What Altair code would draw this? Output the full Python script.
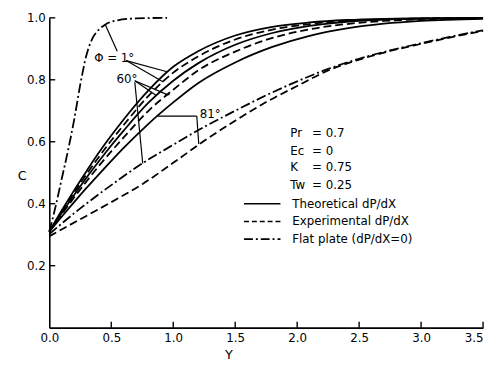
import altair as alt
import pandas as pd

# ---- data ----
Y_GRID = [0, 0.1, 0.2, 0.3, 0.4, 0.5, 0.6, 0.8, 1.0, 1.2, 1.5, 1.8, 2.1, 2.4, 2.7, 3.0, 3.5]
THEO_1 = [0.31, 0.378, 0.443, 0.505, 0.565, 0.62, 0.672, 0.766, 0.842, 0.892, 0.943, 0.971, 0.985, 0.993, 0.997, 0.999, 1.0]
EXP_1 = [0.31, 0.374, 0.436, 0.495, 0.551, 0.604, 0.654, 0.748, 0.823, 0.875, 0.93, 0.962, 0.98, 0.99, 0.995, 0.998, 1.0]
THEO_60 = [0.31, 0.37, 0.428, 0.484, 0.537, 0.588, 0.636, 0.726, 0.797, 0.853, 0.913, 0.951, 0.974, 0.987, 0.994, 0.997, 1.0]
EXP_60 = [0.31, 0.366, 0.42, 0.472, 0.522, 0.569, 0.614, 0.700, 0.768, 0.830, 0.891, 0.935, 0.963, 0.98, 0.99, 0.995, 0.999]
THEO_81 = [0.31, 0.358, 0.405, 0.451, 0.495, 0.538, 0.580, 0.658, 0.727, 0.789, 0.856, 0.906, 0.942, 0.966, 0.981, 0.99, 0.997]

LOW_GRID = [0, 0.25, 0.5, 0.75, 1.0, 1.25, 1.5, 1.75, 2.0, 2.25, 2.5, 2.75, 3.0, 3.25, 3.5]
FLAT_LOW = [0.302, 0.385, 0.46, 0.53, 0.59, 0.648, 0.70, 0.75, 0.795, 0.835, 0.868, 0.895, 0.918, 0.94, 0.96]
EXP_81 = [0.295, 0.35, 0.405, 0.463, 0.532, 0.603, 0.668, 0.728, 0.78, 0.830, 0.865, 0.893, 0.916, 0.938, 0.958]

STEEP_Y = [0, 0.05, 0.1, 0.15, 0.2, 0.25, 0.3, 0.35, 0.4, 0.45, 0.55, 0.7, 0.95]
FLAT_1 = [0.31, 0.39, 0.48, 0.57, 0.67, 0.785, 0.88, 0.935, 0.962, 0.978, 0.992, 0.998, 1.0]

X_TICKS = [0, 0.5, 1.0, 1.5, 2.0, 2.5, 3.0, 3.5]
Y_TICKS = [0.2, 0.4, 0.6, 0.8, 1.0]

# leader lines of the angle labels (Y, C) -> (Y2, C2)
LEADERS = [
    (0.548, 0.892, 0.452, 0.978),
    (0.62, 0.862, 0.95, 0.826),
    (0.62, 0.862, 0.92, 0.793),
    (0.69, 0.797, 0.86, 0.750),
    (0.69, 0.797, 0.952, 0.752),
    (0.935, 0.752, 0.97, 0.752),
    (0.69, 0.792, 0.754, 0.530),
    (0.873, 0.683, 1.19, 0.683),
    (1.19, 0.683, 1.206, 0.593),
]

W, H = 441, 315
FONT = "DejaVu Sans"

rows = []
for name, vals in [("t1", THEO_1), ("t60", THEO_60), ("t81", THEO_81)]:
    rows += [dict(Y=y, C=c, s=name, kind="solid") for y, c in zip(Y_GRID, vals)]
for name, vals in [("e1", EXP_1), ("e60", EXP_60)]:
    rows += [dict(Y=y, C=c, s=name, kind="dash") for y, c in zip(Y_GRID, vals)]
rows += [dict(Y=y, C=c, s="e81", kind="dash") for y, c in zip(LOW_GRID, EXP_81)]
rows += [dict(Y=y, C=c, s="f", kind="dashdot") for y, c in zip(LOW_GRID, FLAT_LOW)]
rows += [dict(Y=y, C=c, s="f1", kind="dashdot") for y, c in zip(STEEP_Y, FLAT_1)]
df = pd.DataFrame(rows)

xs = alt.Scale(domain=[0, 3.5], nice=False)
ys = alt.Scale(domain=[0, 1.0], nice=False)

xax = alt.Axis(values=X_TICKS, format=".1f", tickSize=0, labelPadding=5,
               domainColor="black", domainWidth=1.6, labelColor="black",
               labelFont=FONT, labelFontSize=12, title="Y", titleFont=FONT,
               titleFontSize=13, titleFontWeight="normal", titleColor="black",
               titleX=182, titleY=27, titleBaseline="middle", labelFlush=False,
               labelAlign={"expr": "datum.value >= 3.5 ? 'right' : 'center'"})
yax = alt.Axis(values=Y_TICKS, format=".1f", tickSize=0, labelPadding=4,
               domainColor="black", domainWidth=1.6, labelColor="black",
               labelFont=FONT, labelFontSize=12, title="C", titleFont=FONT,
               titleFontSize=13, titleFontWeight="normal", titleColor="black",
               titleAngle=0, titleX=-28, titleY=160, titleAlign="center",
               titleBaseline="middle")

base = alt.Chart(df).encode(
    x=alt.X("Y:Q", scale=xs, axis=xax),
    y=alt.Y("C:Q", scale=ys, axis=yax),
    detail="s:N",
)
solid = base.transform_filter(alt.datum.kind == "solid").mark_line(
    color="black", strokeWidth=1.8, interpolate="monotone")
dash = base.transform_filter(alt.datum.kind == "dash").mark_line(
    color="black", strokeWidth=1.8, strokeDash=[8, 4], interpolate="monotone")
dashdot = base.transform_filter(alt.datum.kind == "dashdot").mark_line(
    color="black", strokeWidth=1.8, strokeDash=[10, 3, 2, 3], interpolate="monotone")

lead_df = pd.DataFrame(LEADERS, columns=["Y", "C", "Y2", "C2"])
leaders = alt.Chart(lead_df).mark_rule(color="black", strokeWidth=1.2).encode(
    x=alt.X("Y:Q", scale=xs), y=alt.Y("C:Q", scale=ys), x2="Y2:Q", y2="C2:Q")

xt = alt.Chart(pd.DataFrame({"v": X_TICKS[1:]})).mark_rule(color="black", strokeWidth=1.4).encode(
    x=alt.X("v:Q", scale=xs), y=alt.value(H - 6), y2=alt.value(H))
yt = alt.Chart(pd.DataFrame({"v": Y_TICKS})).mark_rule(color="black", strokeWidth=1.4).encode(
    y=alt.Y("v:Q", scale=ys), x=alt.value(0), x2=alt.value(6))

def txt(t, x, y, align="left", size=12):
    return alt.Chart(pd.DataFrame({"t": [t]})).mark_text(
        align=align, baseline="middle", font=FONT, fontSize=size, color="black"
    ).encode(text="t:N", x=alt.value(x), y=alt.value(y))

labels = [
    txt("Φ = 1°", 66, 41, "center"),
    txt("60°", 79, 62, "center"),
    txt("81°", 153, 98),
]
PARAMS = [("Pr", "0.7"), ("Ec", "0"), ("K", "0.75"), ("Tw", "0.25")]
for i, (k, v) in enumerate(PARAMS):
    yy = [117, 135, 152, 170][i]
    labels += [txt(k, 245, yy), txt("=", 272, yy, "center"), txt(v, 281, yy)]

LEGEND = [("Theoretical dP/dX", None), ("Experimental dP/dX", [5, 3]), ("Flat plate (dP/dX=0)", [9, 3, 2, 3])]
for i, (lab, dsh) in enumerate(LEGEND):
    yy = [189, 207, 225][i]
    kw = dict(color="black", strokeWidth=1.6)
    if dsh:
        kw["strokeDash"] = dsh
    labels.append(alt.Chart(pd.DataFrame({"a": [0]})).mark_rule(**kw).encode(
        x=alt.value(198), x2=alt.value(235), y=alt.value(yy)))
    labels.append(txt(lab, 247, yy))

chart = alt.layer(solid, dash, dashdot, leaders, xt, yt, *labels).properties(
    width=W, height=H,
    autosize=alt.AutoSizeParams(type="none"),
    padding={"left": 42, "top": 7, "right": 3, "bottom": 36},
).configure_view(stroke=None).configure_axis(grid=False)

chart.save("out.html", embed_options={"renderer": "svg", "actions": False})
